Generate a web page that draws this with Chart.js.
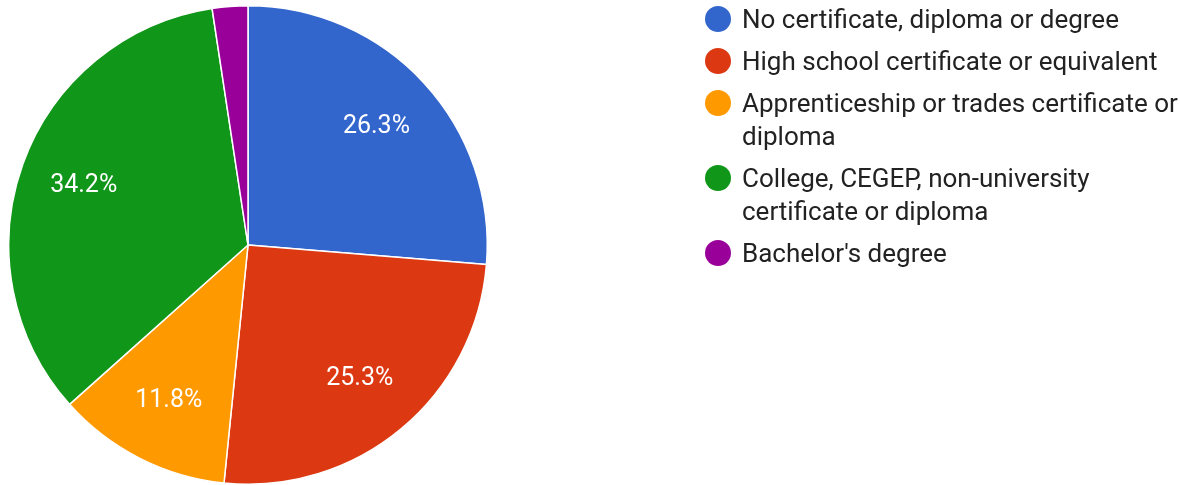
<!DOCTYPE html>
<html>
<head>
<meta charset="utf-8">
<script src="https://cdn.jsdelivr.net/npm/chart.js@4.4.0/dist/chart.umd.min.js"></script>
<style>
  html, body { margin: 0; padding: 0; background: #fff; overflow: hidden; }
  #wrap { position: relative; width: 1180px; height: 485px; }
  #legend { position: absolute; left: 705px; top: 3px; width: 475px;
    font-family: Roboto, "Liberation Sans", Arial, sans-serif; font-size: 26px; color: #222; }
  .item { position: relative; padding-left: 37px; line-height: 33px; margin-bottom: 9px; }
  .dot { position: absolute; left: 0; top: 3px; width: 26px; height: 26px; border-radius: 50%; }
</style>
</head>
<body>
<div id="wrap">
  <canvas id="pieChart" width="1180" height="485"></canvas>
  <div id="legend"></div>
</div>
<script>
const categories = [
  'No certificate, diploma or degree',
  'High school certificate or equivalent',
  'Apprenticeship or trades certificate or diploma',
  'College, CEGEP, non-university certificate or diploma',
  "Bachelor's degree"
];
const shares = [26.3, 25.3, 11.8, 34.2, 2.4];
const colors = ['#3366cc', '#dc3912', '#ff9900', '#109618', '#990099'];

// percentage labels inside the slices, like google charts
const sliceLabels = {
  id: 'sliceLabels',
  afterDatasetsDraw(chart) {
    const ctx = chart.ctx;
    const meta = chart.getDatasetMeta(0);
    const total = shares.reduce((a, b) => a + b, 0);
    ctx.save();
    ctx.fillStyle = '#fff';
    ctx.font = '25px Roboto, "Liberation Sans", Arial, sans-serif';
    ctx.textAlign = 'center';
    ctx.textBaseline = 'middle';
    meta.data.forEach((arc, i) => {
      const pct = shares[i] / total * 100;
      if (pct < 5) return;
      const p = arc.getProps(['x', 'y', 'startAngle', 'endAngle', 'outerRadius'], true);
      const mid = (p.startAngle + p.endAngle) / 2;
      const r = p.outerRadius * 0.73;
      ctx.fillText(pct.toFixed(1) + '%', p.x + Math.cos(mid) * r, p.y + Math.sin(mid) * r);
    });
    ctx.restore();
  }
};

const ctx = document.getElementById('pieChart').getContext('2d');
const chart = new Chart(ctx, {
  type: 'pie',
  data: {
    labels: categories,
    datasets: [{
      data: shares,
      backgroundColor: colors,
      borderColor: '#fff',
      borderWidth: 1.5
    }]
  },
  options: {
    responsive: false,
    animation: false,
    layout: { padding: { left: 8, right: 692, top: 5, bottom: 0 } },
    plugins: {
      legend: { display: false },
      tooltip: { enabled: false }
    }
  },
  plugins: [sliceLabels]
});

// html legend so long names wrap like the original
const legend = document.getElementById('legend');
categories.forEach((name, i) => {
  const item = document.createElement('div');
  item.className = 'item';
  item.innerHTML = '<span class="dot" style="background:' + colors[i] + '"></span>' + name;
  legend.appendChild(item);
});
</script>
</body>
</html>
